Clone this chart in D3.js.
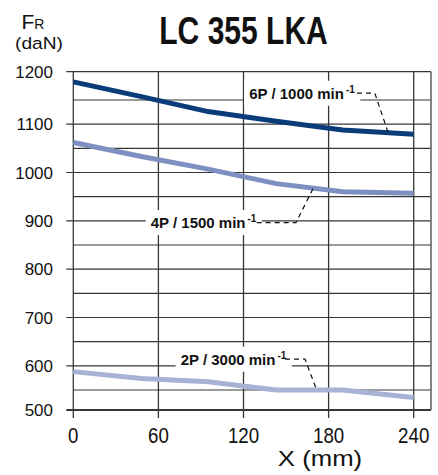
<!DOCTYPE html>
<html>
<head>
<meta charset="utf-8">
<script src="https://cdn.jsdelivr.net/npm/d3@7"></script>
<style>
  body { margin: 0; background: #fff; }
  text { font-family: "Liberation Sans", Arial, sans-serif; fill: #111; }
</style>
</head>
<body>
<div id="chart"></div>
<script>
// values
const xTicks = [0, 60, 120, 180, 240];
const yTicks = [500, 600, 700, 800, 900, 1000, 1100, 1200];
const yMinor = [550, 650, 750, 850, 950, 1050, 1150];

const xPos = [0, 48, 95, 143, 190, 240];
const force6P = [1182, 1156, 1126, 1106, 1088, 1079];
const force4P = [1062, 1033, 1007, 977, 960, 957];
const force2P = [588, 574, 567, 550, 550, 531];

const seriesLabels = ["6P / 1000 min", "4P / 1500 min", "2P / 3000 min"];

const width = 438, height = 475;
const margin = {top: 72, right: 7, bottom: 65, left: 73};

const svg = d3.select("#chart")
    .append("svg")
    .attr("width", width)
    .attr("height", height);

// x axis goes a bit past 240 to the right frame
const x = d3.scaleLinear()
    .domain([0, 240])
    .range([73.3, 413.7]);
const xEnd = x.invert(width - margin.right);

// the printed chart has slightly wider top/bottom bands, so use a piecewise scale
const y = d3.scaleLinear()
    .domain([500, 550, 1150, 1200])
    .range([410, 390, 100, 71.7]);

// the original lettering is squeezed / stretched sideways
function squeeze(sel, px, py, sx) {
  return sel.attr("transform", `translate(${px},${py}) scale(${sx},1)`);
}

const gridColor = "#363636";
const grid = svg.append("g");

// minor horizontal lines
grid.selectAll("line.minor")
  .data(yMinor)
  .join("line")
    .attr("class", "minor")
    .attr("x1", x(0)).attr("x2", x(xEnd))
    .attr("y1", d => y(d)).attr("y2", d => y(d))
    .attr("stroke", gridColor)
    .attr("stroke-width", 1.2);

// major horizontal lines, with a small tick out to the left
grid.selectAll("line.major")
  .data(yTicks)
  .join("line")
    .attr("class", "major")
    .attr("x1", x(0) - 7).attr("x2", x(xEnd))
    .attr("y1", d => y(d)).attr("y2", d => y(d))
    .attr("stroke", gridColor)
    .attr("stroke-width", d => d === 500 ? 1.8 : 1.2);

// vertical lines, running past the bottom edge
grid.selectAll("line.vert")
  .data(xTicks)
  .join("line")
    .attr("class", "vert")
    .attr("x1", d => x(d)).attr("x2", d => x(d))
    .attr("y1", y(1200)).attr("y2", y(500) + 8)
    .attr("stroke", gridColor)
    .attr("stroke-width", 1.3);

// right frame
grid.append("line")
    .attr("x1", x(xEnd)).attr("x2", x(xEnd))
    .attr("y1", y(1200)).attr("y2", y(500))
    .attr("stroke", "#666")
    .attr("stroke-width", 1.6);

// tick labels
svg.append("g")
  .selectAll("text")
  .data(yTicks)
  .join("text")
    .attr("x", 53)
    .attr("y", d => y(d))
    .attr("dy", "0.36em")
    .attr("text-anchor", "end")
    .style("font-size", "17px")
    .text(d => d);

svg.append("g")
  .selectAll("text")
  .data(xTicks)
  .join("text")
    .each(function(d) { squeeze(d3.select(this), x(d), 443, 0.85); })
    .attr("text-anchor", "middle")
    .style("font-size", "22px")
    .text(d => d);

// series lines
const series = [
  {name: seriesLabels[0], values: force6P, color: "#0b3c7a"},
  {name: seriesLabels[1], values: force4P, color: "#7d90c1"},
  {name: seriesLabels[2], values: force2P, color: "#a6b3d5"}
];

const line = d3.line()
    .x(d => x(d[0]))
    .y(d => y(d[1]));

svg.append("g")
  .selectAll("path")
  .data(series)
  .join("path")
    .attr("fill", "none")
    .attr("stroke", d => d.color)
    .attr("stroke-width", 5)
    .attr("d", d => line(xPos.map((v, i) => [v, d.values[i]])));

// annotations: label start (x, y in data units), dashed leader to a point on the curve
const notes = [
  {s: 0, x: 124, y: 1162, dash: 200, elbow: 212.6, target: 222},
  {s: 1, x: 54.6, y: 896.5, dash: 129.3, elbow: 157, target: 169.2},
  {s: 2, x: 75.7, y: 613.7, dash: 149.3, elbow: 163.4, target: 171.6}
];

const valueAt = (vals, xv) => d3.scaleLinear().domain(xPos).range(vals)(xv);

notes.forEach(n => {
  const s = series[n.s];
  const g = svg.append("g");
  const bg = g.append("rect").attr("fill", "#fff");
  const t = g.append("text")
      .attr("x", x(n.x))
      .attr("y", y(n.y) + 5.5)
      .style("font-weight", "bold")
      .style("font-size", "15px");
  t.append("tspan").text(s.name);
  t.append("tspan")
      .attr("dx", 2)
      .attr("dy", -6)
      .style("font-size", "10px")
      .text("-1");
  const bb = t.node().getBBox();
  bg.attr("x", bb.x - 5).attr("y", y(n.y) - 12.5)
    .attr("width", bb.width + 10).attr("height", 25);

  const ey = y(valueAt(s.values, n.target));
  svg.append("path")
      .attr("fill", "none")
      .attr("stroke", "#111")
      .attr("stroke-width", 1.2)
      .attr("stroke-dasharray", "5,4")
      .attr("d", `M${x(n.dash)},${y(n.y)}H${x(n.elbow)}L${x(n.target)},${ey}`);
});

// title and axis names
squeeze(svg.append("text"), 243.5, 43.5, 0.79)
    .attr("text-anchor", "middle")
    .style("font-weight", "bold")
    .style("font-size", "38px")
    .text("LC 355 LKA");

const fr = svg.append("text")
    .attr("x", 21.5)
    .attr("y", 29);
fr.append("tspan").style("font-size", "21px").text("F");
fr.append("tspan").style("font-size", "14px").text("R");

squeeze(svg.append("text"), 39, 49, 1.13)
    .attr("text-anchor", "middle")
    .style("font-size", "17px")
    .text("(daN)");

squeeze(svg.append("text"), 320, 466, 1.17)
    .attr("text-anchor", "middle")
    .style("font-size", "22px")
    .text("X (mm)");
</script>
</body>
</html>
